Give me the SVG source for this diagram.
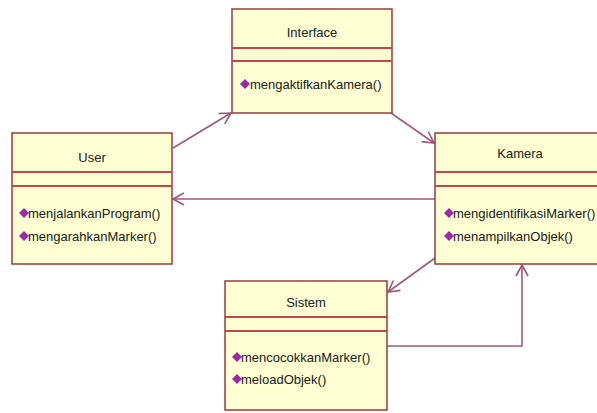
<svg xmlns="http://www.w3.org/2000/svg" width="597" height="413" viewBox="0 0 597 413">
<defs>
<style>
.box{fill:#FFFFD4;stroke:#9A3A3A;stroke-width:1.5}
.sep{stroke:#C04848;stroke-width:2}
.name{font-family:"Liberation Sans",Arial,sans-serif;font-size:13px;fill:#202018;text-anchor:middle}
.op{font-family:"Liberation Sans",Arial,sans-serif;font-size:13px;fill:#202018}
.dia{fill:#9A2AA8}
.conn{fill:none;stroke:#9E5A78;stroke-width:1.6}
</style>
<marker id="open" markerWidth="14" markerHeight="14" refX="12" refY="7" orient="auto" markerUnits="userSpaceOnUse">
<path d="M1,1 L12,7 L1,13" fill="none" stroke="#9E5A78" stroke-width="1.6"/>
</marker>
</defs>
<rect x="0" y="0" width="597" height="413" fill="#FFFFFF"/>
<g id="connectors">
<line class="conn" x1="173" y1="148" x2="231" y2="113" marker-end="url(#open)"/>
<line class="conn" x1="391" y1="113" x2="434" y2="143" marker-end="url(#open)"/>
<line class="conn" x1="435" y1="199" x2="173" y2="199" marker-end="url(#open)"/>
<line class="conn" x1="435" y1="258" x2="388" y2="292" marker-end="url(#open)"/>
<polyline class="conn" points="387,346 522,346 522,265" marker-end="url(#open)"/>
</g>
<g id="interface">
<rect class="box" x="232" y="9" width="160" height="104"/>
<line class="sep" x1="232" y1="48" x2="392" y2="48"/>
<line class="sep" x1="232" y1="61" x2="392" y2="61"/>
<text class="name" x="312" y="37">Interface</text>
<path class="dia" d="M245,79 L250,84 L245,89 L240,84 Z"/>
<text class="op" x="250" y="89">mengaktifkanKamera()</text>
</g>
<g id="user">
<rect class="box" x="12" y="133" width="160" height="131"/>
<line class="sep" x1="12" y1="172" x2="172" y2="172"/>
<line class="sep" x1="12" y1="186" x2="172" y2="186"/>
<text class="name" x="92" y="162">User</text>
<path class="dia" d="M24,208 L29,213 L24,218 L19,213 Z"/>
<text class="op" x="28" y="218">menjalankanProgram()</text>
<path class="dia" d="M24,231 L29,236 L24,241 L19,236 Z"/>
<text class="op" x="28" y="241">mengarahkanMarker()</text>
</g>
<g id="kamera">
<rect class="box" x="435" y="133" width="175" height="131"/>
<line class="sep" x1="435" y1="172" x2="610" y2="172"/>
<line class="sep" x1="435" y1="186" x2="610" y2="186"/>
<text class="name" x="520" y="158">Kamera</text>
<path class="dia" d="M449,208 L454,213 L449,218 L444,213 Z"/>
<text class="op" x="453" y="218">mengidentifikasiMarker()</text>
<path class="dia" d="M449,231 L454,236 L449,241 L444,236 Z"/>
<text class="op" x="453" y="241">menampilkanObjek()</text>
</g>
<g id="sistem">
<rect class="box" x="225" y="281" width="162" height="129"/>
<line class="sep" x1="225" y1="317" x2="387" y2="317"/>
<line class="sep" x1="225" y1="331" x2="387" y2="331"/>
<text class="name" x="306" y="307">Sistem</text>
<path class="dia" d="M237,352 L242,357 L237,362 L232,357 Z"/>
<text class="op" x="241" y="362">mencocokkanMarker()</text>
<path class="dia" d="M237,374 L242,379 L237,384 L232,379 Z"/>
<text class="op" x="241" y="384">meloadObjek()</text>
</g>
</svg>
